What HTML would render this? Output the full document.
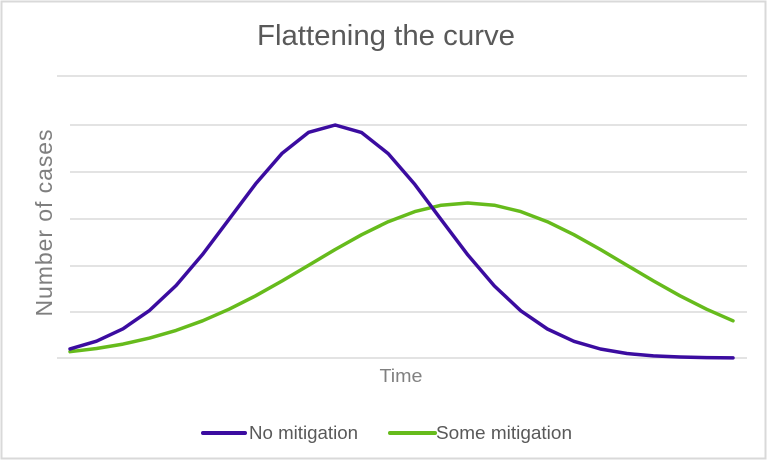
<!DOCTYPE html>
<html>
<head>
<meta charset="utf-8">
<style>
  html, body { margin: 0; padding: 0; background: #ffffff; }
  body { width: 770px; height: 463px; overflow: hidden; }
  svg { display: block; }
  text { font-family: "Liberation Sans", Arial, sans-serif; }
</style>
</head>
<body>
<svg width="770" height="463" viewBox="0 0 770 463" xmlns="http://www.w3.org/2000/svg">
  <rect x="0" y="0" width="770" height="463" fill="#ffffff"/>
  <rect x="1.5" y="1.5" width="764" height="457" fill="#ffffff" stroke="#d9d9d9" stroke-width="2"/>

  <!-- Title -->
  <text x="386" y="45" font-size="29" fill="#595959" text-anchor="middle" textLength="258" lengthAdjust="spacingAndGlyphs">Flattening the curve</text>

  <!-- Gridlines -->
  <g stroke="#e3e3e3" stroke-width="2">
    <line x1="57" y1="76" x2="747" y2="76"/>
    <line x1="70" y1="125" x2="747" y2="125"/>
    <line x1="70" y1="172" x2="747" y2="172"/>
    <line x1="70" y1="219" x2="747" y2="219"/>
    <line x1="70" y1="266" x2="747" y2="266"/>
    <line x1="70" y1="312" x2="747" y2="312"/>
    <line x1="57" y1="358" x2="747" y2="358"/>
  </g>

  <!-- Y axis label -->
  <text transform="translate(52,223) rotate(-90)" font-size="23" fill="#7f7f7f" text-anchor="middle" textLength="187" lengthAdjust="spacing">Number of cases</text>

  <!-- X axis label -->
  <text x="401" y="382" font-size="18" fill="#808080" text-anchor="middle" textLength="43" lengthAdjust="spacingAndGlyphs">Time</text>

  <!-- Some mitigation (green) -->
  <polyline fill="none" stroke="#66bb1c" stroke-width="3.5" stroke-linejoin="round" stroke-linecap="round"
    points="70,351.7 96.5,348.5 123,344.1 149.6,338.1 176.1,330.4 202.6,320.8 229.1,309.2 255.6,295.8 282.2,280.9 308.7,265.2 335.2,249.5 361.7,234.7 388.2,221.7 414.8,211.6 441.3,205.2 467.8,203 494.3,205.2 520.8,211.6 547.4,221.7 573.9,234.7 600.4,249.5 626.9,265.2 653.4,280.9 680,295.8 706.5,309.2 733,320.8"/>

  <!-- No mitigation (purple) -->
  <polyline fill="none" stroke="#3b0ca0" stroke-width="3.5" stroke-linejoin="round" stroke-linecap="round"
    points="70,348.9 96.5,341.2 123,328.8 149.6,310.4 176.1,285.5 202.6,254.4 229.1,219.2 255.6,183.9 282.2,153.2 308.7,132.3 335.2,125 361.7,132.6 388.2,153.6 414.8,184.4 441.3,219.8 467.8,254.9 494.3,285.9 520.8,310.8 547.4,329 573.9,341.3 600.4,349 626.9,353.5 653.4,355.9 680,357 706.5,357.6 733,357.9"/>

  <!-- Legend -->
  <line x1="203" y1="433" x2="245" y2="433" stroke="#3b0ca0" stroke-width="4" stroke-linecap="round"/>
  <text x="249" y="439" font-size="18" fill="#595959" textLength="109" lengthAdjust="spacingAndGlyphs">No mitigation</text>
  <line x1="390" y1="433" x2="435" y2="433" stroke="#66bb1c" stroke-width="4" stroke-linecap="round"/>
  <text x="436" y="439" font-size="18" fill="#595959" textLength="136" lengthAdjust="spacingAndGlyphs">Some mitigation</text>
</svg>
</body>
</html>
